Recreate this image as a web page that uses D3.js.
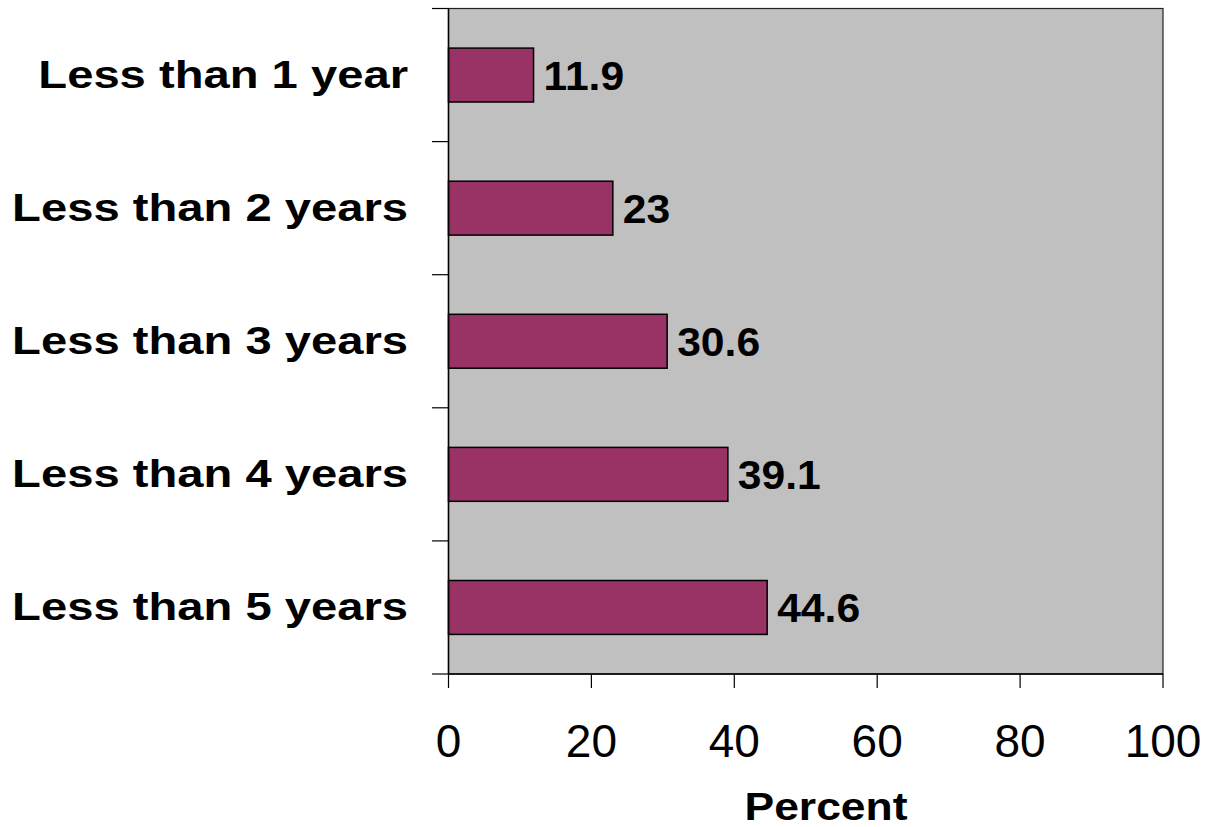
<!DOCTYPE html>
<html><head><meta charset="utf-8">
<script src="https://cdn.jsdelivr.net/npm/d3@7"></script>
<style>body{margin:0;background:#fff}svg{display:block}</style>
</head><body>
<script>
const categories = ["Less than 1 year","Less than 2 years","Less than 3 years","Less than 4 years","Less than 5 years"];
const values = [11.9, 23, 30.6, 39.1, 44.6];
const valueLabels = ["11.9","23","30.6","39.1","44.6"];
const xTicks = [0,20,40,60,80,100];
const xTitle = "Percent";

(function(){
const W = 1205, H = 827;
const pL = 448.5, pR = 1163, pT = 8.5, pB = 674;
const svg = d3.select("body").append("svg").attr("width", W).attr("height", H);

const x = d3.scaleLinear().domain([0,100]).range([pL, pR]);
const y = d3.scaleBand().domain(categories).range([pT, pB]).paddingInner(0).paddingOuter(0);
const barH = y.step() * 0.405;

svg.append("rect").attr("x", pL).attr("y", pT).attr("width", pR-pL).attr("height", pB-pT)
  .attr("fill", "#c0c0c0").attr("stroke", "#222").attr("stroke-width", 1.2);

svg.selectAll("rect.bar").data(values).enter().append("rect").attr("class","bar")
  .attr("x", x(0)).attr("y", (d,i)=> y(categories[i]) + y.step()/2 - barH/2)
  .attr("width", d=> x(d)-x(0)).attr("height", barH)
  .attr("fill", "#993366").attr("stroke", "#000").attr("stroke-width", 1.5);

svg.selectAll("text.val").data(values).enter().append("text").attr("class","val")
  .attr("transform", (d,i)=> `translate(${x(d) + 10},${y(categories[i]) + y.step()/2 + 15}) scale(1.04,1)`)
  .attr("font-family", "'Liberation Sans', Arial, sans-serif").attr("font-weight","bold")
  .attr("font-size", 41).attr("fill","#000").text((d,i)=> valueLabels[i]);

const yAxisG = svg.append("g");
yAxisG.append("line").attr("x1", pL).attr("x2", pL).attr("y1", pT).attr("y2", pB)
  .attr("stroke","#000").attr("stroke-width",1.5);
const yTickPos = categories.map(c=> y(c)).concat([pB]);
yAxisG.selectAll("line.t").data(yTickPos).enter().append("line").attr("class","t")
  .attr("x1", 432).attr("x2", pL).attr("y1", d=>d).attr("y2", d=>d)
  .attr("stroke","#000").attr("stroke-width",1.2);
svg.selectAll("text.cat").data(categories).enter().append("text").attr("class","cat")
  .attr("transform", c=> `translate(408,${y(c)+y.step()/2+12.5}) scale(1.21,1)`)
  .attr("text-anchor","end")
  .attr("font-family", "'Liberation Sans', Arial, sans-serif").attr("font-weight","bold")
  .attr("font-size", 39).attr("fill","#000").text(c=>c);

const xAxisG = svg.append("g");
xAxisG.append("line").attr("x1", pL).attr("x2", pR).attr("y1", pB).attr("y2", pB)
  .attr("stroke","#000").attr("stroke-width",1.5);
xAxisG.selectAll("line.t").data(xTicks).enter().append("line").attr("class","t")
  .attr("x1", d=>x(d)).attr("x2", d=>x(d)).attr("y1", pB).attr("y2", 688)
  .attr("stroke","#000").attr("stroke-width",1.2);
xAxisG.selectAll("text").data(xTicks).enter().append("text")
  .attr("x", d=>x(d)).attr("y", 757).attr("text-anchor","middle")
  .attr("font-family", "'Liberation Sans', Arial, sans-serif")
  .attr("font-size", 46).attr("fill","#000").text(d=>d);

svg.append("text").attr("transform", "translate(826,820) scale(1.14,1)").attr("text-anchor","middle")
  .attr("font-family", "'Liberation Sans', Arial, sans-serif").attr("font-weight","bold")
  .attr("font-size", 39).attr("fill","#000").text(xTitle);
})();
</script>
</body></html>
